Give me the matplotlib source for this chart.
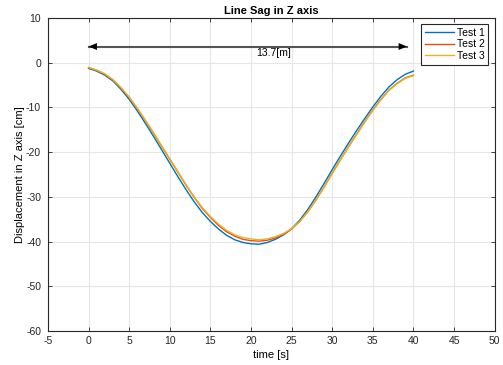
import matplotlib.pyplot as plt

t = list(range(0, 41))
test1 = [-1.3, -1.9, -2.8, -4.1, -6.0, -8.2, -10.8, -13.6, -16.5, -19.5,
         -22.5, -25.5, -28.4, -31.1, -33.5, -35.5, -37.2, -38.6, -39.6, -40.2,
         -40.5, -40.6, -40.2, -39.5, -38.5, -37.1, -35.2, -32.8, -30.0, -27.0,
         -23.9, -20.9, -18.0, -15.2, -12.5, -9.9, -7.5, -5.4, -3.8, -2.6, -1.9]
test2 = [-1.1, -1.7, -2.6, -3.9, -5.7, -7.8, -10.3, -13.0, -15.8, -18.7,
         -21.6, -24.5, -27.4, -30.1, -32.6, -34.6, -36.4, -37.8, -38.8, -39.5,
         -39.8, -39.9, -39.7, -39.2, -38.4, -37.2, -35.5, -33.3, -30.7, -27.8,
         -24.7, -21.7, -18.8, -16.0, -13.2, -10.6, -8.2, -6.1, -4.6, -3.4, -2.8]
test3 = [-1.1, -1.7, -2.5, -3.8, -5.6, -7.7, -10.2, -12.9, -15.7, -18.6,
         -21.5, -24.4, -27.3, -30.0, -32.4, -34.4, -36.1, -37.5, -38.5, -39.1,
         -39.4, -39.6, -39.4, -38.9, -38.2, -37.1, -35.5, -33.3, -30.7, -27.8,
         -24.8, -21.8, -18.9, -16.1, -13.3, -10.7, -8.3, -6.2, -4.7, -3.5, -2.9]
labels = ["Test 1", "Test 2", "Test 3"]
colors = ["#0072BD", "#D95319", "#EDB120"]

arrow_x = [0, 39.2]
arrow_y = 3.6
span_text = "13.7[m]"

plt.rcParams['font.family'] = ['Liberation Sans', 'DejaVu Sans']
plt.rcParams['axes.unicode_minus'] = False
fig = plt.figure(figsize=(5.03, 3.65), dpi=100)
ax = fig.add_axes([0.0954, 0.093, 0.888, 0.858])

for y, lab, c in zip([test1, test2, test3], labels, colors):
    ax.plot(t, y, color=c, linewidth=1.0, label=lab)

# double-headed span arrow
ax.plot(arrow_x, [arrow_y, arrow_y], color="#555555", linewidth=1.5, zorder=3)
for tip, tail in [(arrow_x[0], arrow_x[0] + 3), (arrow_x[1], arrow_x[1] - 3)]:
    ax.annotate("", xy=(tip, arrow_y), xytext=(tail, arrow_y),
                arrowprops=dict(arrowstyle="-|>,head_length=0.6,head_width=0.25",
                                color="black", linewidth=0, shrinkA=0, shrinkB=0))
ax.text(20.7, 2.2, span_text, fontsize=7.5, ha="left", va="center")

ax.set_xlim(-5, 50)
ax.set_ylim(-60, 10)
ax.set_xticks(range(-5, 51, 5))
ax.set_yticks(range(-60, 11, 10))
ax.grid(True, color="#e6e6e6", linewidth=0.8)
ax.set_axisbelow(True)
ax.tick_params(direction="in", top=True, right=True, labelsize=7.5,
               length=3, width=0.6, colors="#262626")
ax.tick_params(axis="y", pad=5)
for s in ax.spines.values():
    s.set_linewidth(0.8)
    s.set_color("#262626")

ax.set_title("Line Sag in Z axis", fontsize=8, fontweight="bold", pad=3)
ax.set_xlabel("time [s]", fontsize=8, labelpad=3)
ax.set_ylabel("Displacement in Z axis [cm]", fontsize=8, labelpad=1)

leg = ax.legend(loc="upper right", fontsize=7.5, fancybox=False,
                edgecolor="#262626", framealpha=1, borderpad=0.35,
                handlelength=2.8, handletextpad=0.3, labelspacing=0.15,
                borderaxespad=0.6)
leg.get_frame().set_linewidth(0.8)

fig.savefig("out.png", dpi=100)
